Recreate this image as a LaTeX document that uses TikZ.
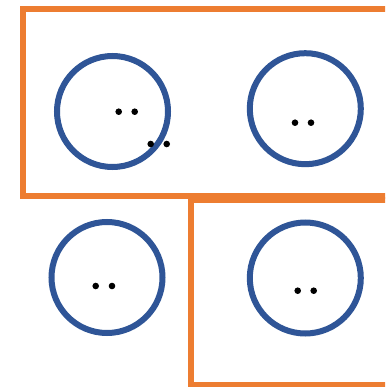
\documentclass[tikz,border=0pt]{standalone}
\definecolor{frameorange}{HTML}{ED7D31}
\definecolor{ringblue}{HTML}{2F5597}
\tikzset{
  ring/.style={circle, draw=ringblue, line width=6pt, minimum size=111pt, inner sep=0pt},
  dotmark/.style={circle, fill=black, minimum size=6.6pt, inner sep=0pt},
  framebox/.style={draw=frameorange, line width=6pt}
}
\begin{document}
\begin{tikzpicture}[x=1pt,y=-1pt]
\useasboundingbox (0,0) rectangle (385,387);
\clip (0,0) rectangle (385,387);
\fill[white] (0,0) rectangle (385,387);
% frames
\draw[framebox] (23,9.5) rectangle (410,196);
\draw[framebox] (190.5,199.5) rectangle (410,384.5);
% circles
\node[ring] (c1) at (112.5,111.5) {};
\node[ring] (c2) at (305.3,108.7) {};
\node[ring] (c3) at (107,277.5) {};
\node[ring] (c4) at (305.3,278) {};
% dots
\node[dotmark] (d1a) at (118.7,111.7) {};
\node[dotmark] (d1b) at (134.7,111.7) {};
\node[dotmark] (d1c) at (150.7,144) {};
\node[dotmark] (d1d) at (166.7,144) {};
\node[dotmark] (d2a) at (295,122.7) {};
\node[dotmark] (d2b) at (311,122.7) {};
\node[dotmark] (d3a) at (95.7,286) {};
\node[dotmark] (d3b) at (112,286) {};
\node[dotmark] (d4a) at (297.7,290.7) {};
\node[dotmark] (d4b) at (313.7,290.7) {};
\end{tikzpicture}
\end{document}
